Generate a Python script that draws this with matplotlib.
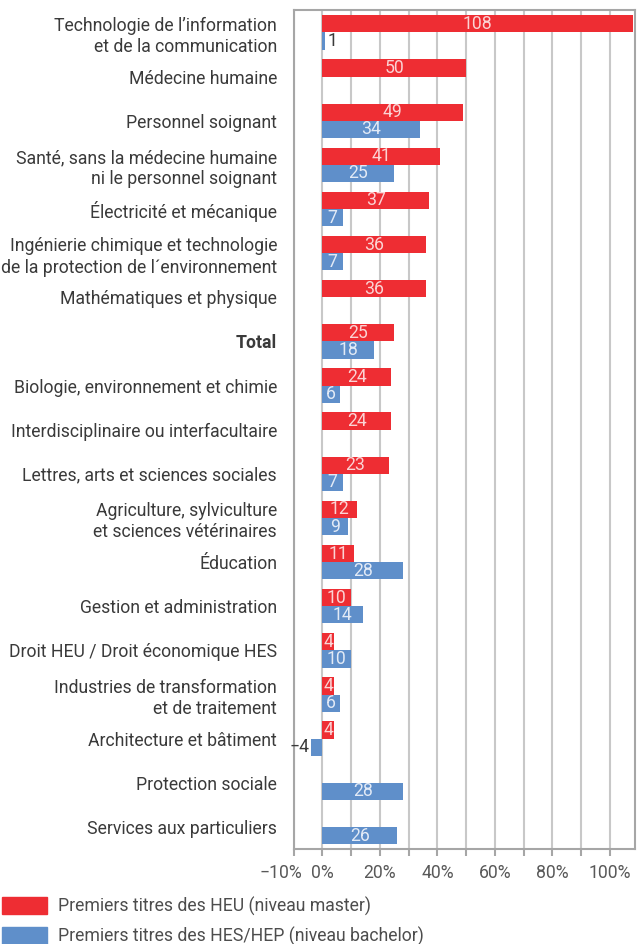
import numpy as np
import matplotlib.pyplot as plt
import matplotlib.transforms as mtransforms
from matplotlib.patches import Patch

plt.rcParams['font.family'] = ['Roboto', 'DejaVu Sans']

categories = [
    "Technologie de l’information\net de la communication",
    "Médecine humaine",
    "Personnel soignant",
    "Santé, sans la médecine humaine\nni le personnel soignant",
    "Électricité et mécanique",
    "Ingénierie chimique et technologie\nde la protection de l´environnement",
    "Mathématiques et physique",
    "Total",
    "Biologie, environnement et chimie",
    "Interdisciplinaire ou interfacultaire",
    "Lettres, arts et sciences sociales",
    "Agriculture, sylviculture\net sciences vétérinaires",
    "Éducation",
    "Gestion et administration",
    "Droit HEU / Droit économique HES",
    "Industries de transformation\net de traitement",
    "Architecture et bâtiment",
    "Protection sociale",
    "Services aux particuliers",
]
heu = [108, 50, 49, 41, 37, 36, 36, 25, 24, 24, 23, 12, 11, 10, 4, 4, 4, None, None]
hes = [1, None, 34, 25, 7, 7, None, 18, 6, None, 7, 9, 28, 14, 10, 6, -4, 28, 26]

red = '#ee2d33'
blue = '#5f8fca'
txt = '#3a3a3a'
fs = 12.7

fig = plt.figure(figsize=(6.4, 9.44), dpi=100)
ax = fig.add_axes([0.459, 0.1006, 0.533, 0.8884])

y = np.arange(len(categories))
h = 0.39

def draw(vals, off, color, lab_color):
    for i, v in enumerate(vals):
        if v is None:
            continue
        ax.barh(y[i] + off, v, height=h, color=color, zorder=3)
        if v < 0:
            ax.text(v - 0.6, y[i] + off, str(v).replace('-', '−'), ha='right', va='center',
                    fontsize=fs, color=txt, zorder=4)
        elif v < 3:
            ax.text(v + 0.6, y[i] + off, str(v), ha='left', va='center',
                    fontsize=fs, color=txt, zorder=4)
        else:
            ax.text(v / 2, y[i] + off, str(v), ha='center', va='center',
                    fontsize=fs, color=lab_color, zorder=4)

draw(heu, -h / 2, red, '#fbd3d4')
draw(hes, h / 2, blue, '#e2eaf6')

ax.set_ylim(len(categories) - 0.5, -0.5)
ax.set_xlim(-10, 108.7)
ax.set_yticks(y)
ax.set_yticklabels(categories, fontsize=fs, color=txt, linespacing=1.25)
for t in ax.get_yticklabels():
    if t.get_text() == 'Total':
        t.set_fontweight('bold')
ax.tick_params(axis='y', length=0, pad=12)

ax.set_xticks(np.arange(-10, 101, 10))
ax.set_xticklabels(['−10%', '0%', '', '20%', '', '40%', '', '60%', '', '80%', '', '100%'],
                   fontsize=fs, color='#595959')
ax.tick_params(axis='x', length=5, color='#a6a6a6', width=1.5, pad=6)
first = ax.get_xticklabels()[0]
first.set_transform(first.get_transform() + mtransforms.ScaledTranslation(-0.13, 0, fig.dpi_scale_trans))
ax.grid(axis='x', color='#c8c8c8', linewidth=1.5, zorder=0)
for s in ax.spines.values():
    s.set_color('#a6a6a6')
    s.set_linewidth(1.5)

handles = [Patch(color=red, label='Premiers titres des HEU (niveau master)'),
           Patch(color=blue, label='Premiers titres des HES/HEP (niveau bachelor)')]
leg = fig.legend(handles=handles, loc='lower left', bbox_to_anchor=(-0.016, -0.015),
                 frameon=False, fontsize=fs, handlelength=2.55, handleheight=1.15,
                 labelspacing=0.62, handletextpad=0.6, borderpad=0.2)
for t in leg.get_texts():
    t.set_color('#4d4d4d')

plt.savefig('out.png', dpi=100)
